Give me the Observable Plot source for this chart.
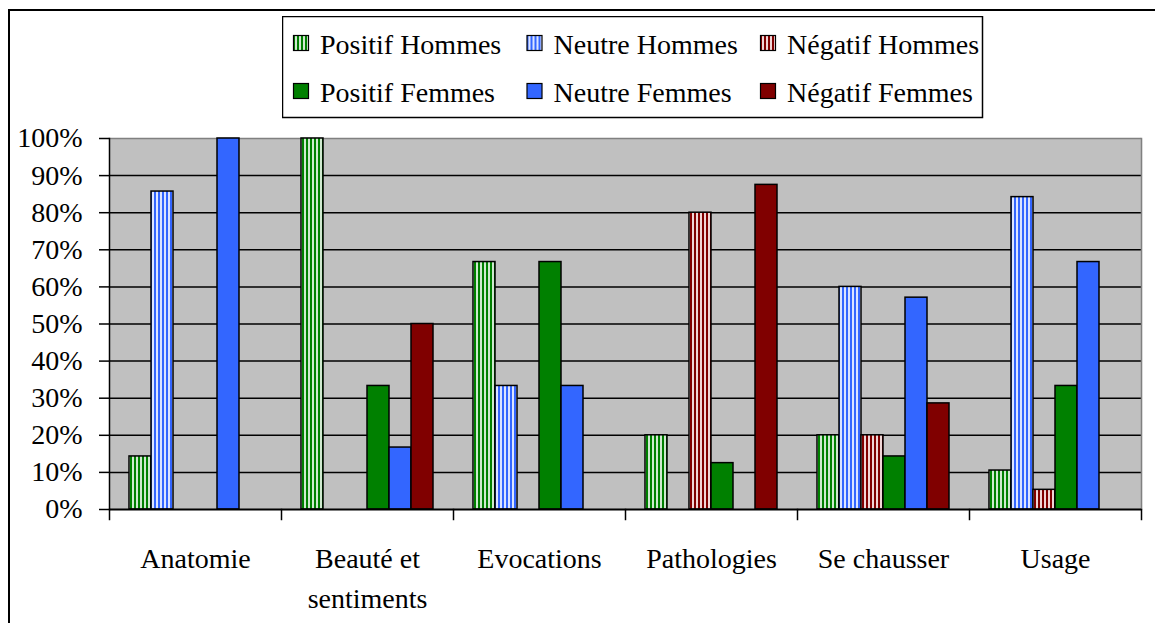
<!DOCTYPE html>
<html>
<head>
<meta charset="utf-8">
<script src="https://cdn.jsdelivr.net/npm/d3@7"></script>
<script src="https://cdn.jsdelivr.net/npm/@observablehq/plot@0.6"></script>
<style>
html, body { margin: 0; padding: 0; background: #fff; overflow: hidden; width: 1155px; height: 623px; }
#frame { position: absolute; left: 8px; top: 9px; width: 1200px; height: 700px; border: 2px solid #000; box-sizing: border-box; }
#chart { position: absolute; left: 0; top: 0; }
#legend { position: absolute; left: 282px; top: 16px; }
svg text { font-family: "Liberation Serif", Tinos, "Times New Roman", Times, "DejaVu Serif", serif !important; }
</style>
</head>
<body>
<div id="frame"></div>
<svg width="0" height="0" style="position:absolute;left:0;top:0"><defs id="pdefs"></defs></svg>
<div id="chart"></div>
<div id="legend"></div>
<script>
// ---- Data ----
const categories = ["Anatomie", "Beauté et\nsentiments", "Evocations", "Pathologies", "Se chausser", "Usage"];
const series = ["Positif Hommes", "Neutre Hommes", "Négatif Hommes", "Positif Femmes", "Neutre Femmes", "Négatif Femmes"];
const positifHommes = [14.3, 100, 66.7, 20, 20, 10.5];
const neutreHommes  = [85.7, 0, 33.3, 0, 60, 84.2];
const negatifHommes = [0, 0, 0, 80, 20, 5.3];
const positifFemmes = [0, 33.3, 66.7, 12.5, 14.3, 33.3];
const neutreFemmes  = [100, 16.7, 33.3, 0, 57.1, 66.7];
const negatifFemmes = [0, 50, 0, 87.5, 28.6, 0];
const yTicks = [0, 10, 20, 30, 40, 50, 60, 70, 80, 90, 100];

// ---- Styling ----
const baseColors = ["#008000", "#3366ff", "#800000", "#008000", "#3366ff", "#800000"];
const lightColors = ["#cfe9cf", "#dbe4ff", "#f0d6d6"];
const hatched = [true, true, true, false, false, false];
const FONT = '"Liberation Serif", Tinos, "Times New Roman", Times, "DejaVu Serif", serif';

const defs = d3.select("#pdefs");
const fills = series.map((s, i) => {
  if (!hatched[i]) return baseColors[i];
  const p = defs.append("pattern").attr("id", "pat" + i)
    .attr("patternUnits", "userSpaceOnUse").attr("width", 4).attr("height", 4);
  p.append("rect").attr("width", 4).attr("height", 4).attr("fill", lightColors[i]);
  p.append("rect").attr("width", 2).attr("height", 4).attr("fill", baseColors[i]);
  return `url(#pat${i})`;
});

const valueLists = [positifHommes, neutreHommes, negatifHommes, positifFemmes, neutreFemmes, negatifFemmes];
const data = [];
series.forEach((s, si) => categories.forEach((c, ci) => data.push({category: c, series: s, value: valueLists[si][ci]})));

const W = 1155, H = 623, mT = 138, mB = 114, mL = 107, mR = 12;
const innerH = H - mT - mB;

const plot = Plot.plot({
  width: W, height: H,
  marginTop: mT, marginBottom: mB, marginLeft: mL, marginRight: mR,
  style: {fontFamily: FONT, fontSize: "28px", color: "#000", background: "transparent", overflow: "visible"},
  fx: {domain: categories, padding: 0, axis: null},
  x: {domain: series, paddingInner: 0, paddingOuter: 0.75, axis: null},
  y: {domain: [0, 100], axis: null},
  color: {domain: series, range: fills},
  marks: [
    Plot.frame({fill: "#c0c0c0", stroke: null, insetRight: -0.6}),
    Plot.gridY(yTicks.filter(t => t > 0 && t < 100), {stroke: "#000", strokeOpacity: 1, strokeWidth: 1.5}),
    Plot.ruleY([100], {stroke: "#808080", strokeWidth: 1.5}),
    Plot.frame({anchor: "right", stroke: "#808080", strokeWidth: 1.5, facetAnchor: "right"}),
    Plot.barY(data.filter(d => d.value > 0), {fx: "category", x: "series", y: "value", fill: "series", stroke: "#000", strokeWidth: 1.5}),
    Plot.ruleY([0], {stroke: "#000", strokeWidth: 2}),
    Plot.frame({anchor: "left", stroke: "#000", strokeWidth: 1.5, facetAnchor: "left"}),
    Plot.frame({anchor: "left", stroke: "#000", strokeWidth: 1.5, insetTop: innerH, insetBottom: -10}),
    Plot.frame({anchor: "right", stroke: "#000", strokeWidth: 1.5, insetTop: innerH, insetBottom: -10, facetAnchor: "right"}),
    Plot.axisY(yTicks, {label: null, tickSize: 10, tickPadding: 17, tickFormat: d => d + "%", fontSize: 28, strokeWidth: 1.5}),
    Plot.axisFx({label: null, anchor: "bottom", tickSize: 0, tickPadding: 30, fontSize: 28, lineHeight: 1.43})
  ]
});
document.getElementById("chart").appendChild(plot);

// ---- Legend ----
const lg = d3.select("#legend").append("svg").attr("width", 702).attr("height", 103);
lg.append("rect").attr("x", 0.5).attr("y", 0.5).attr("width", 700).attr("height", 101)
  .attr("fill", "#fff").attr("stroke", "#000").attr("stroke-width", 1.5);
series.forEach((s, i) => {
  const col = i % 3, row = Math.floor(i / 3);
  const g = lg.append("g").attr("transform", `translate(${11 + 233.5 * col},${48 * row})`);
  g.append("rect").attr("x", 0.5).attr("y", 19.5).attr("width", 15).attr("height", 15)
    .attr("fill", fills[i]).attr("stroke", "#000").attr("stroke-width", 1.2);
  g.append("text").attr("x", 27).attr("y", 38)
    .attr("font-size", 28).attr("fill", "#000").text(s);
});
</script>
</body>
</html>
